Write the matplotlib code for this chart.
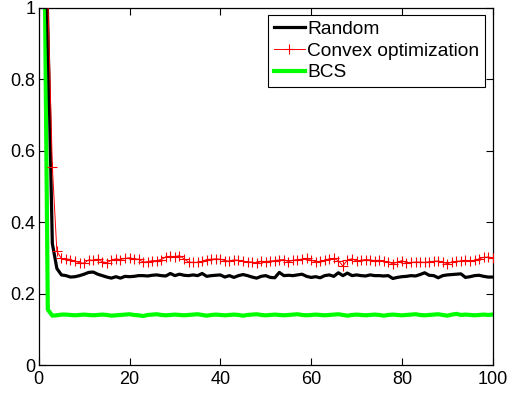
import numpy as np
import matplotlib
matplotlib.use('Agg')
from matplotlib import pyplot as plt

# number of measurements (x axis)
n_meas = np.arange(1, 101)

# reconstruction error
random_err = [1.5, 0.95, 0.34, 0.27, 0.252, 0.25, 0.246, 0.247, 0.25, 0.254,
              0.259, 0.26, 0.254, 0.25, 0.246, 0.243, 0.247, 0.243, 0.248, 0.247,
              0.248, 0.25, 0.25, 0.249, 0.251, 0.252, 0.25, 0.249, 0.256, 0.25,
              0.254, 0.251, 0.25, 0.252, 0.25, 0.256, 0.248, 0.25, 0.251, 0.252,
              0.246, 0.25, 0.245, 0.25, 0.253, 0.25, 0.246, 0.243, 0.248, 0.25,
              0.245, 0.244, 0.259, 0.25, 0.251, 0.25, 0.252, 0.254, 0.248, 0.245,
              0.247, 0.244, 0.25, 0.252, 0.248, 0.258, 0.25, 0.257, 0.25, 0.252,
              0.25, 0.249, 0.252, 0.25, 0.25, 0.249, 0.25, 0.242, 0.245, 0.247,
              0.248, 0.25, 0.249, 0.253, 0.258, 0.251, 0.25, 0.244, 0.25, 0.252,
              0.253, 0.254, 0.255, 0.245, 0.247, 0.25, 0.251, 0.248, 0.246, 0.246]

convex_err = [1.6, 1.03, 0.555, 0.318, 0.298, 0.297, 0.295, 0.29, 0.286, 0.285,
              0.294, 0.293, 0.296, 0.289, 0.286, 0.293, 0.297, 0.295, 0.298, 0.3,
              0.297, 0.296, 0.288, 0.289, 0.292, 0.292, 0.295, 0.302, 0.304, 0.303,
              0.306, 0.297, 0.288, 0.287, 0.287, 0.29, 0.295, 0.296, 0.297, 0.296,
              0.292, 0.291, 0.294, 0.293, 0.29, 0.289, 0.288, 0.284, 0.29, 0.289,
              0.291, 0.292, 0.294, 0.295, 0.289, 0.293, 0.295, 0.296, 0.298, 0.293,
              0.289, 0.29, 0.293, 0.297, 0.298, 0.292, 0.277, 0.294, 0.297, 0.291,
              0.293, 0.295, 0.294, 0.292, 0.293, 0.29, 0.288, 0.283, 0.288, 0.292,
              0.286, 0.287, 0.288, 0.288, 0.287, 0.289, 0.29, 0.291, 0.288, 0.283,
              0.288, 0.29, 0.291, 0.293, 0.29, 0.293, 0.297, 0.301, 0.302, 0.3]

bcs_err = [1.56, 0.155, 0.138, 0.139, 0.141, 0.141, 0.14, 0.139, 0.14, 0.141,
           0.14, 0.139, 0.14, 0.141, 0.14, 0.138, 0.139, 0.14, 0.141, 0.142,
           0.14, 0.139, 0.137, 0.14, 0.141, 0.142, 0.14, 0.139, 0.14, 0.141,
           0.14, 0.139, 0.14, 0.141, 0.142, 0.14, 0.138, 0.14, 0.141, 0.14,
           0.139, 0.14, 0.141, 0.14, 0.138, 0.14, 0.141, 0.142, 0.14, 0.139,
           0.14, 0.141, 0.14, 0.139, 0.14, 0.141, 0.142, 0.14, 0.139, 0.14,
           0.141, 0.14, 0.139, 0.14, 0.141, 0.142, 0.14, 0.138, 0.14, 0.141,
           0.14, 0.139, 0.14, 0.141, 0.14, 0.138, 0.14, 0.141, 0.14, 0.139,
           0.14, 0.141, 0.142, 0.14, 0.139, 0.14, 0.141, 0.142, 0.14, 0.138,
           0.141, 0.143, 0.14, 0.141, 0.14, 0.139, 0.14, 0.141, 0.14, 0.141]

x_ticks = [0, 20, 40, 60, 80, 100]
y_ticks = [0, 0.2, 0.4, 0.6, 0.8, 1]
y_ticklabels = ['0', '0.2', '0.4', '0.6', '0.8', '1']

plt.rcParams['font.family'] = ['Liberation Sans', 'DejaVu Sans']
plt.rcParams['font.size'] = 13

fig = plt.figure(figsize=(5.10, 3.97), dpi=100)
ax = fig.add_axes([0.0759, 0.0806, 0.8902, 0.9005])

ax.plot(n_meas, random_err, color='black', lw=2.3, label='Random', zorder=3)
ax.plot(n_meas, convex_err, color='red', lw=0.7, marker='+', ms=7.5, mew=0.8,
        label='Convex optimization', zorder=4)
ax.plot(n_meas, bcs_err, color='#00ff00', lw=3.0, label='BCS', zorder=2)

ax.set(xlim=[0, 100], ylim=[0, 1])
ax.set_xticks(x_ticks)
ax.set_yticks(y_ticks)
ax.set_yticklabels(y_ticklabels)
ax.tick_params(direction='in', top=True, right=True, length=5, width=0.8,
               labelsize=13)
ax.tick_params(axis='x', pad=4)
ax.tick_params(axis='y', pad=2.5)
for sp in ax.spines.values():
    sp.set_linewidth(0.9)

# legend box: right edge at x~485 px, top at y~15 px
leg = ax.legend(loc='upper right', bbox_to_anchor=(485 / 510, 1 - 15 / 397),
                bbox_transform=fig.transFigure, borderaxespad=0,
                fancybox=False, framealpha=1, edgecolor='black',
                handlelength=1.6, handletextpad=0.12,
                borderpad=0.3, labelspacing=0.22, numpoints=1, fontsize=13.8)
leg.get_frame().set_linewidth(0.8)

fig.savefig('out.png', dpi=100)
